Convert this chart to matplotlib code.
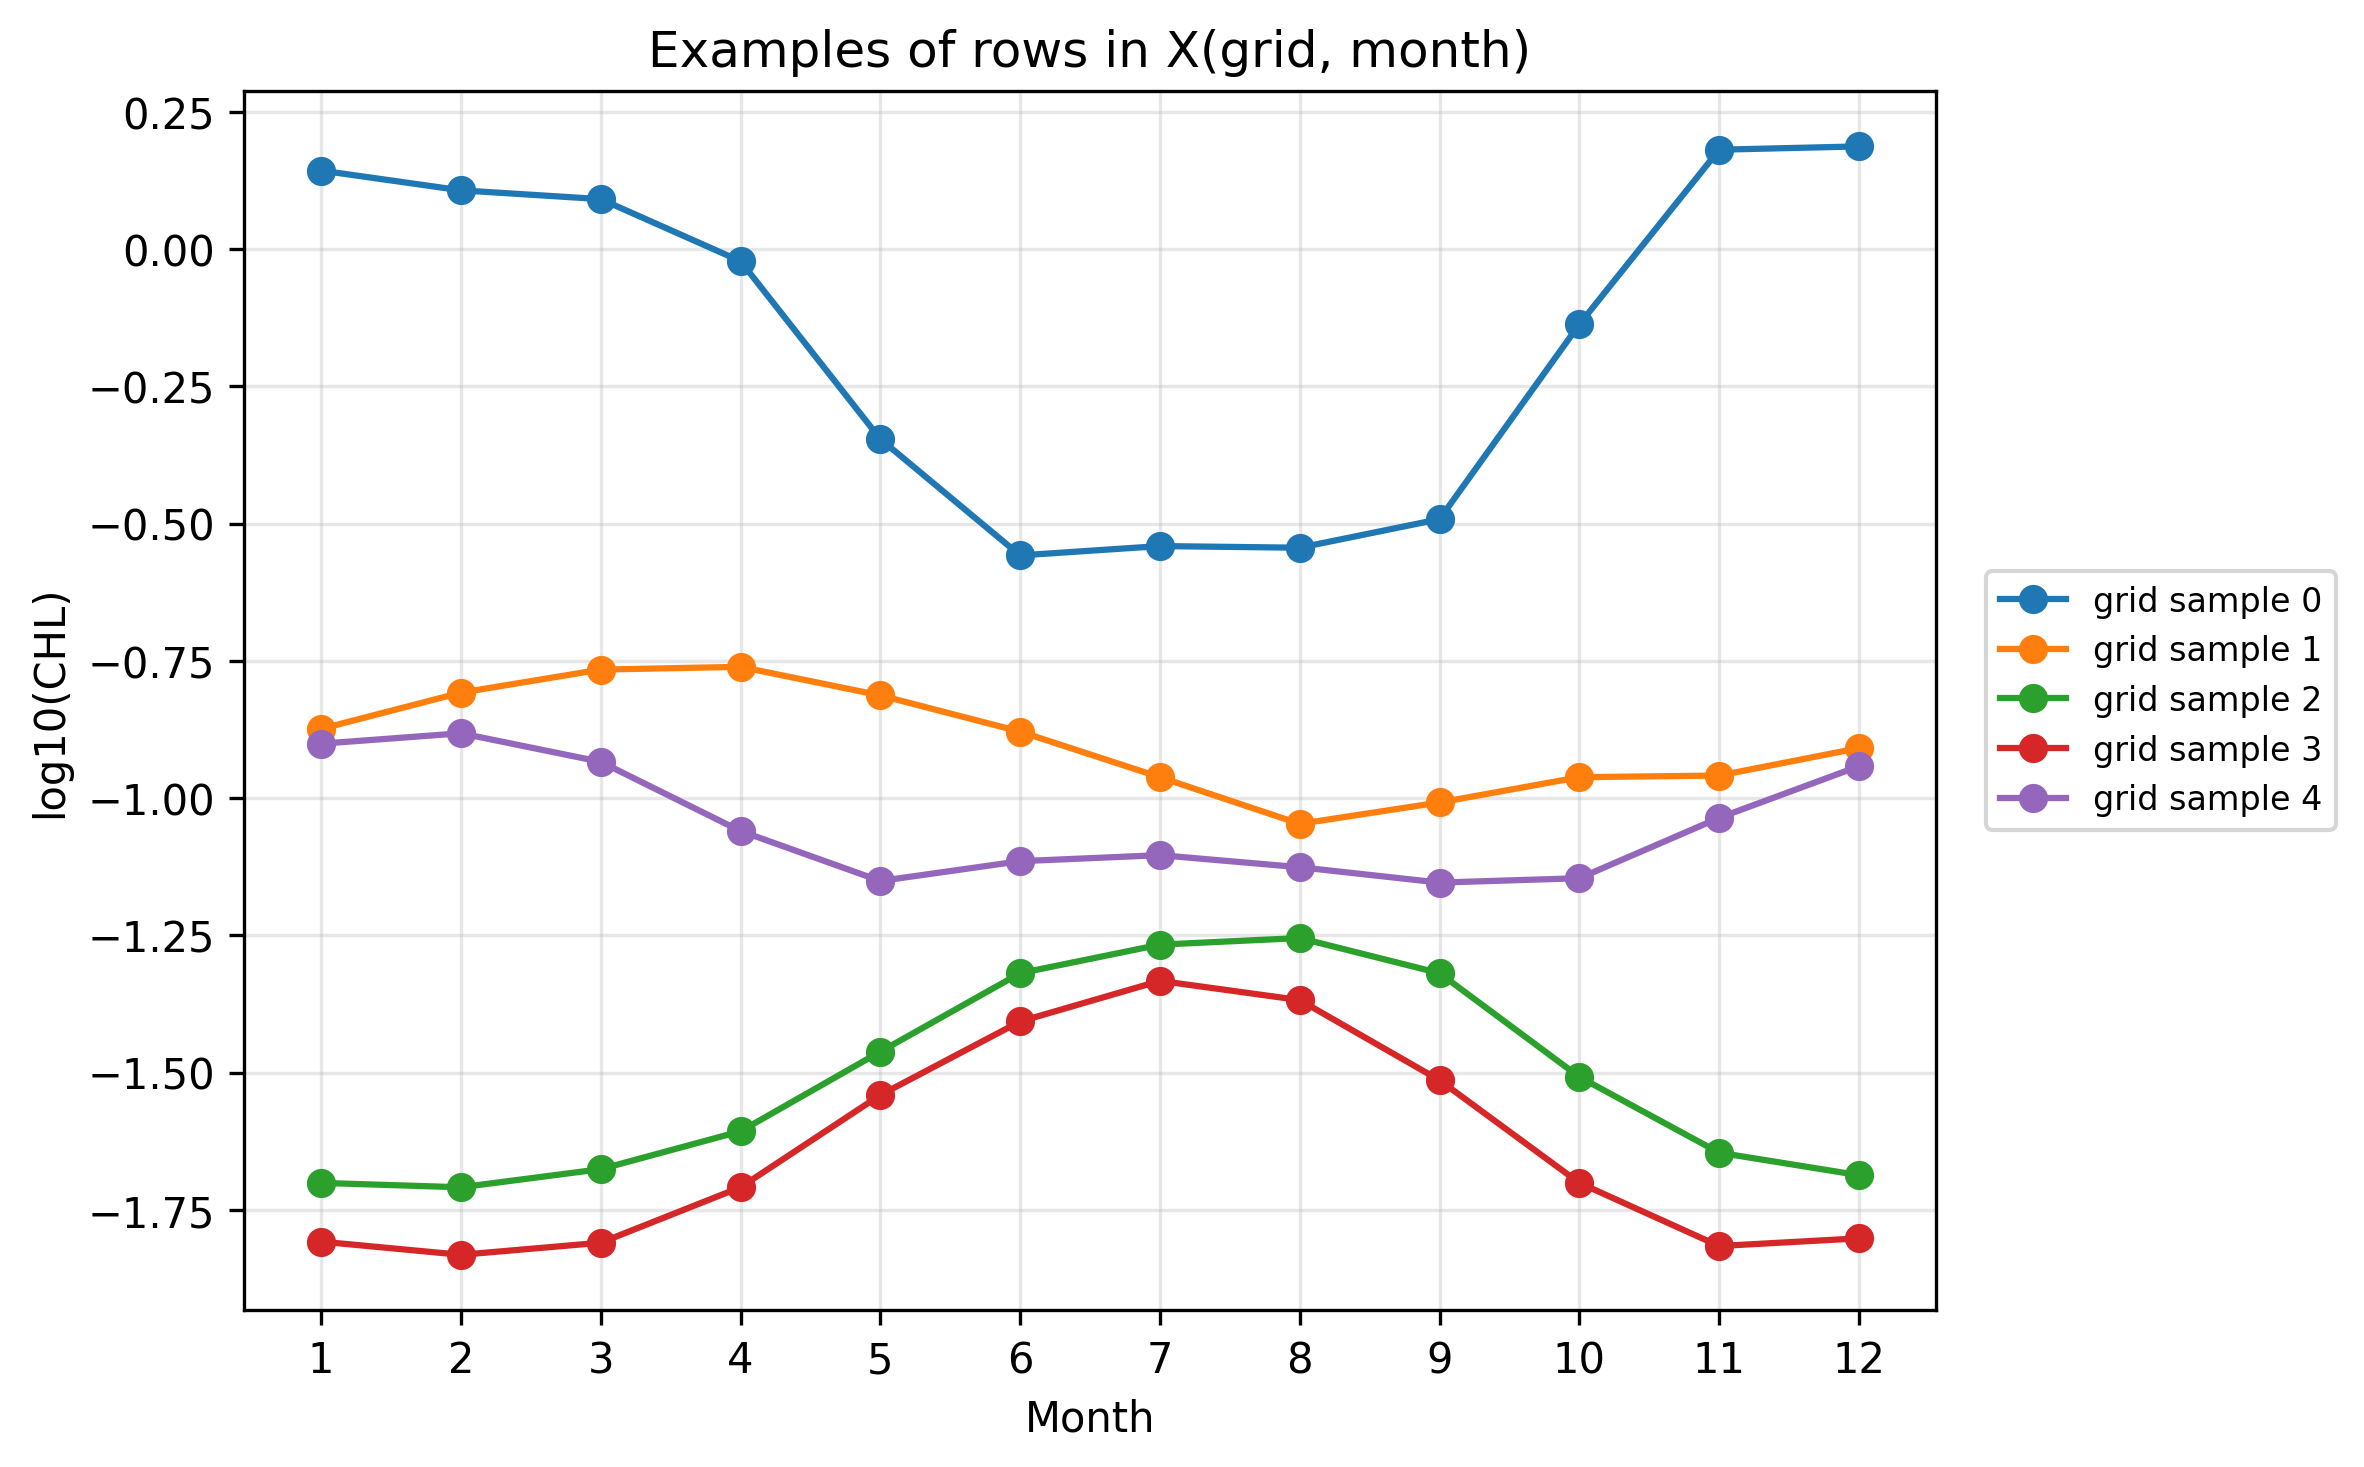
import numpy as np
import matplotlib.pyplot as plt

months = np.arange(1, 13)

sample0 = [0.143, 0.107, 0.091, -0.022, -0.346, -0.558, -0.541, -0.544, -0.492, -0.137, 0.181, 0.187]
sample1 = [-0.874, -0.808, -0.766, -0.761, -0.813, -0.879, -0.962, -1.047, -1.008, -0.962, -0.959, -0.909]
sample2 = [-1.701, -1.709, -1.676, -1.607, -1.462, -1.319, -1.267, -1.255, -1.319, -1.508, -1.646, -1.687]
sample3 = [-1.808, -1.832, -1.810, -1.709, -1.541, -1.407, -1.333, -1.368, -1.514, -1.701, -1.816, -1.802]
sample4 = [-0.901, -0.882, -0.934, -1.060, -1.151, -1.115, -1.104, -1.126, -1.154, -1.146, -1.036, -0.942]

samples = [sample0, sample1, sample2, sample3, sample4]

fig, ax = plt.subplots(figsize=(7.88, 4.893), dpi=300)
for i, s in enumerate(samples):
    ax.plot(months, s, marker='o', label=f'grid sample {i}')

ax.set_xticks(months)
ax.set_xlabel("Month")
ax.set_ylabel("log10(CHL)")
ax.set_title("Examples of rows in X(grid, month)")
ax.grid(alpha=0.3)
ax.legend(loc='center left', bbox_to_anchor=(1.02, 0.5), fontsize=8)

fig.subplots_adjust(left=0.1033, right=0.8189, top=0.9374, bottom=0.1068)
plt.savefig("out.png", dpi=300)
